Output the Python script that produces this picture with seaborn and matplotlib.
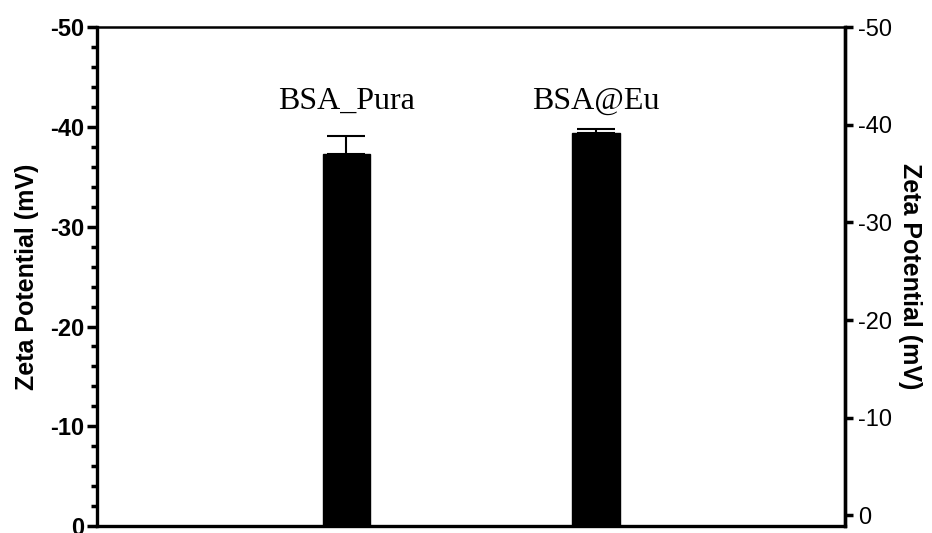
import matplotlib
matplotlib.use("Agg")
import matplotlib.pyplot as plt
import seaborn as sns
import pandas as pd
from matplotlib.ticker import MultipleLocator

samples = ["BSA_Pura", "BSA@Eu"]
zeta_mv = [-37.3, -39.4]
zeta_sd = [1.8, 0.4]
y_ticks = [0, -10, -20, -30, -40, -50]

sns.set_theme(style="ticks")
plt.rcParams["font.family"] = ["Liberation Sans", "DejaVu Sans"]
plt.rcParams["text.color"] = "black"
plt.rcParams["axes.labelcolor"] = "black"
plt.rcParams["ytick.color"] = "black"
plt.rcParams["xtick.color"] = "black"

df = pd.DataFrame({"sample": samples, "zeta": zeta_mv})

fig = plt.figure(figsize=(9.32, 5.33), dpi=100)
ax = fig.add_axes([0.104, 0.013, 0.803, 0.936])

sns.barplot(data=df, x="sample", y="zeta", color="black", width=0.19,
            errorbar=None, saturation=1, ax=ax, edgecolor="black")

# one-sided error bars (towards more negative potential)
ax.errorbar(range(len(samples)), zeta_mv,
            yerr=[zeta_sd, [0] * len(zeta_sd)],
            fmt="none", ecolor="black", elinewidth=1.5, capsize=14, capthick=1.5)

for i, name in enumerate(samples):
    ax.text(i, -42.6, name, ha="center", va="center", color="black",
            fontsize=23, family=["Liberation Serif", "DejaVu Serif"])

ax.set_xlim(-1, 2)
ax.set_ylim(0, -50)
ax.set_yticks(y_ticks)
ax.set_yticklabels([str(t) for t in y_ticks], fontweight="bold", fontsize=17)
ax.yaxis.set_minor_locator(MultipleLocator(2))
ax.tick_params(axis="y", which="major", length=7, width=2.5, pad=2, colors="black")
ax.tick_params(axis="y", which="minor", length=4, width=2.5, colors="black")
ax.set_xticks([])
ax.set_xlabel("")
ax.set_ylabel("Zeta Potential (mV)", fontsize=18, fontweight="bold",
              labelpad=8, color="black")

for side in ["left", "bottom", "right"]:
    ax.spines[side].set_linewidth(2.4)
    ax.spines[side].set_color("black")
ax.spines["top"].set_linewidth(1.8)
ax.spines["top"].set_color("black")

ax2 = ax.twinx()
ax2.set_ylim(1.1, -50)
ax2.set_yticks(y_ticks)
ax2.set_yticklabels([str(t) for t in y_ticks], fontsize=17)
ax2.tick_params(axis="y", which="major", length=6, width=2.5, pad=3, colors="black")
ax2.set_ylabel("Zeta Potential (mV)", fontsize=18, rotation=270,
               labelpad=22, fontweight="semibold", color="black")
for s in ax2.spines.values():
    s.set_visible(False)
ax2.spines["right"].set_visible(True)
ax2.spines["right"].set_linewidth(2.4)
ax2.spines["right"].set_color("black")

fig.savefig("out.png", dpi=100, facecolor="white")
